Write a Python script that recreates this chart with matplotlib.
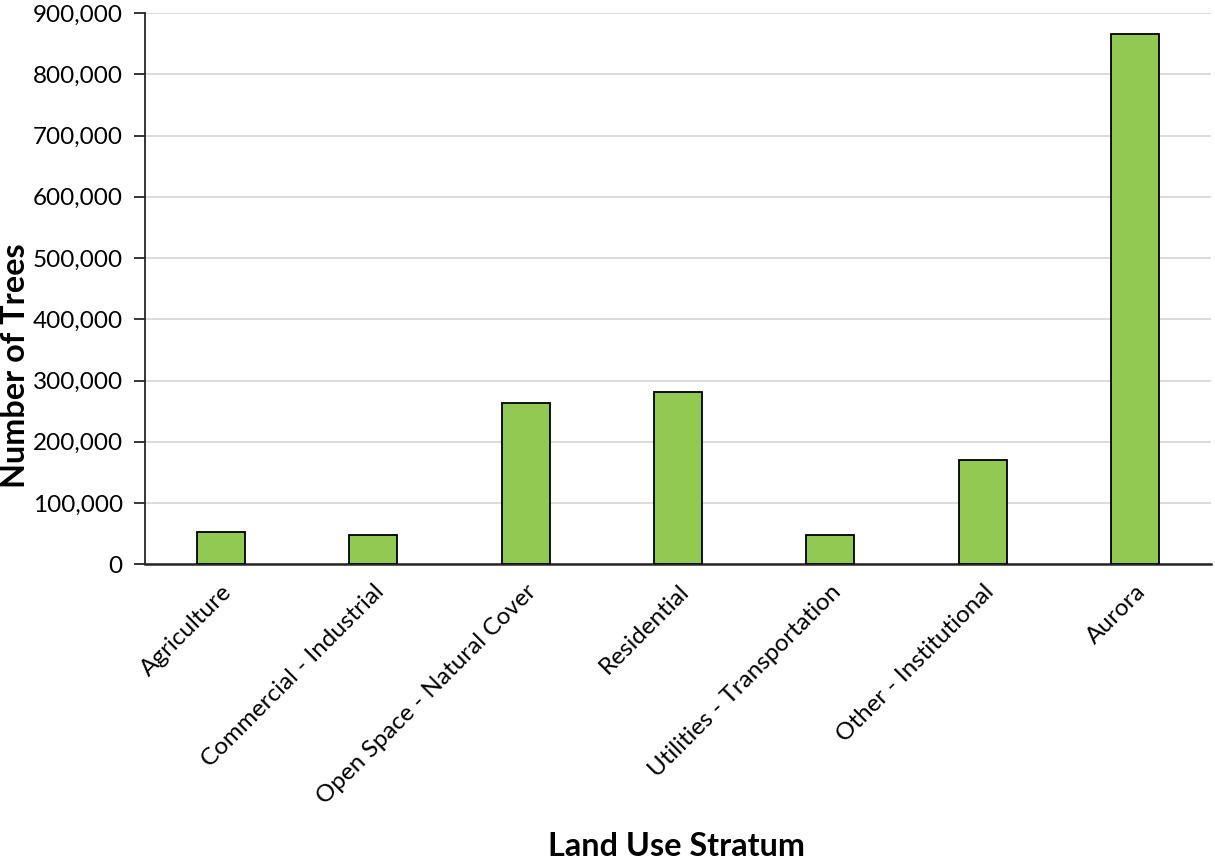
import matplotlib
matplotlib.use("Agg")
import matplotlib.pyplot as plt
from matplotlib.ticker import FuncFormatter, MultipleLocator

categories = ["Agriculture", "Commercial - Industrial", "Open Space - Natural Cover",
              "Residential", "Utilities - Transportation", "Other - Institutional", "Aurora"]
tree_counts = [52700, 47300, 262800, 280800, 47800, 169800, 865700]

plt.rcParams["font.family"] = ["Lato", "DejaVu Sans"]

fig = plt.figure(figsize=(12.15, 8.6), dpi=100)
ax = fig.add_axes([0.1193, 0.3438, 0.8775, 0.6411])

x = range(len(categories))
ax.bar(x, tree_counts, width=0.315, color="#92C952", edgecolor="#000000", linewidth=1.3, zorder=3)

ax.set_xlim(-0.5, len(categories) - 0.5)
ax.set_ylim(0, 900000)
ax.yaxis.set_major_locator(MultipleLocator(100000))
ax.yaxis.set_major_formatter(FuncFormatter(lambda v, p: f"{int(v):,}"))
ax.grid(axis="y", color="#D9D9D9", linewidth=1.3, zorder=0)
ax.set_axisbelow(True)

for side in ("top", "right"):
    ax.spines[side].set_visible(False)
ax.spines["left"].set_color("#262626")
ax.spines["left"].set_linewidth(1.3)
ax.spines["bottom"].set_color("#262626")
ax.spines["bottom"].set_linewidth(1.8)

ax.tick_params(axis="y", direction="out", length=8, width=1.3, color="#262626",
               labelsize=17.5, labelcolor="#000000", pad=8)
ax.tick_params(axis="x", length=0, labelsize=17.5, labelcolor="#000000", pad=12)
ax.set_xticks(list(x))
ax.set_xticklabels(categories, rotation=45, ha="right", rotation_mode="anchor")

fig.text(0.0005, 1 - 366 / 860, "Number of Trees", fontsize=23.3, fontweight="bold",
         rotation=90, ha="left", va="center")
fig.text(1 - 1215 / 1215 + 677 / 1215, 1 - 856 / 860, "Land Use Stratum", fontsize=23.3,
         fontweight="bold", ha="center", va="baseline")

fig.savefig("out.png", dpi=100, facecolor="white")
